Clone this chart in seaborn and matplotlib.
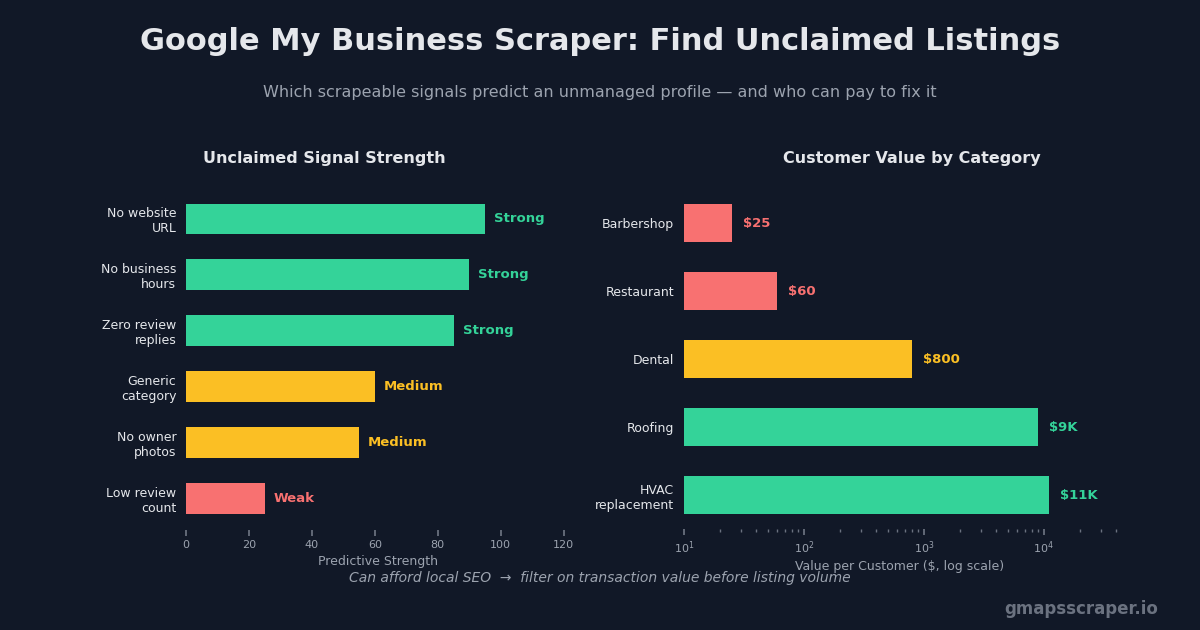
import matplotlib
matplotlib.use("Agg")
import matplotlib.pyplot as plt
import seaborn as sns
import pandas as pd

# ---- data ----
signals = ["No website\nURL", "No business\nhours", "Zero review\nreplies",
           "Generic\ncategory", "No owner\nphotos", "Low review\ncount"]
signal_strength = [95, 90, 85, 60, 55, 25]
signal_level = ["Strong", "Strong", "Strong", "Medium", "Medium", "Weak"]

categories = ["Barbershop", "Restaurant", "Dental", "Roofing", "HVAC\nreplacement"]
customer_value = [25, 60, 800, 9000, 11000]
value_labels = ["$25", "$60", "$800", "$9K", "$11K"]
value_tier = ["Low", "Low", "Mid", "High", "High"]

BG = "#111827"
GREEN = "#34d399"
YELLOW = "#fbbf24"
RED = "#f87171"
level_colors = {"Strong": GREEN, "Medium": YELLOW, "Weak": RED}
tier_colors = {"High": GREEN, "Mid": YELLOW, "Low": RED}

sns.set_theme(style="dark")
plt.rcParams["font.family"] = ["DejaVu Sans"]

fig = plt.figure(figsize=(12, 6.3), dpi=100, facecolor=BG)

W, H = 1200, 630
axL = fig.add_axes([186 / W, 100 / H, 384 / W, 339 / H])
axR = fig.add_axes([684 / W, 101 / H, 432 / W, 340 / H])

df1 = pd.DataFrame({"signal": signals, "strength": signal_strength, "level": signal_level})
df2 = pd.DataFrame({"cat": categories, "value": customer_value, "tier": value_tier})

sns.barplot(data=df1, y="signal", x="strength", hue="level", palette=level_colors,
            orient="h", width=0.55, dodge=False, legend=False, ax=axL, saturation=1,
            edgecolor="none", linewidth=0)
sns.barplot(data=df2, y="cat", x="value", hue="tier", palette=tier_colors,
            orient="h", width=0.56, dodge=False, legend=False, ax=axR, saturation=1,
            edgecolor="none", linewidth=0)
axR.set_xscale("log")

for ax in (axL, axR):
    ax.set_facecolor(BG)
    for s in ax.spines.values():
        s.set_visible(False)
    ax.grid(False)
    ax.tick_params(axis="y", length=0, labelsize=9, labelcolor="#e5e7eb", pad=7)
    ax.tick_params(axis="x", which="both", colors="#6b7280", labelcolor="#9ca3af",
                   labelsize=8, bottom=True, direction="out")
    ax.tick_params(axis="x", which="major", length=4)
    ax.tick_params(axis="x", which="minor", length=2)
    ax.set_ylabel("")

axL.set_ylim(5.57, -0.5)
axL.set_xlim(0, 122)
axL.set_xticks([0, 20, 40, 60, 80, 100, 120])
axL.set_xlabel("Predictive Strength", color="#9ca3af", fontsize=9, labelpad=3)
axR.set_xlim(10, 40000)
axR.set_xlabel("Value per Customer ($, log scale)", color="#9ca3af", fontsize=9, labelpad=3)

for i, (v, lab) in enumerate(zip(signal_strength, signal_level)):
    axL.annotate(lab, xy=(v, i), xytext=(6.5, 0), textcoords="offset points",
                 va="center", ha="left", fontsize=9.5, fontweight="bold",
                 color=level_colors[lab])
for i, (v, lab, t) in enumerate(zip(customer_value, value_labels, value_tier)):
    axR.annotate(lab, xy=(v, i), xytext=(8, 0), textcoords="offset points",
                 va="center", ha="left", fontsize=9.5, fontweight="bold",
                 color=tier_colors[t])

fig.text(0.5, 1 - 41 / H, "Google My Business Scraper: Find Unclaimed Listings",
         ha="center", va="center", fontsize=22, fontweight="bold", color="#e5e7eb")
fig.text(0.5, 1 - 93 / H, "Which scrapeable signals predict an unmanaged profile — and who can pay to fix it",
         ha="center", va="center", fontsize=11.5, color="#9ca3af")
fig.text(324 / W, 1 - 159 / H, "Unclaimed Signal Strength", ha="center", va="center",
         fontsize=11.5, fontweight="bold", color="#e5e7eb")
fig.text(912 / W, 1 - 159 / H, "Customer Value by Category", ha="center", va="center",
         fontsize=11.5, fontweight="bold", color="#e5e7eb")
fig.text(0.5, 1 - 578 / H,
         "Can afford local SEO  \u2192  filter on transaction value before listing volume",
         ha="center", va="center", fontsize=10, style="italic", color="#9ca3af")
fig.text(1158 / W, 1 - 609 / H, "gmapsscraper.io", ha="right", va="center",
         fontsize=12, fontweight="bold", color="#6b7280")

fig.savefig("out.png", dpi=100, facecolor=BG)
